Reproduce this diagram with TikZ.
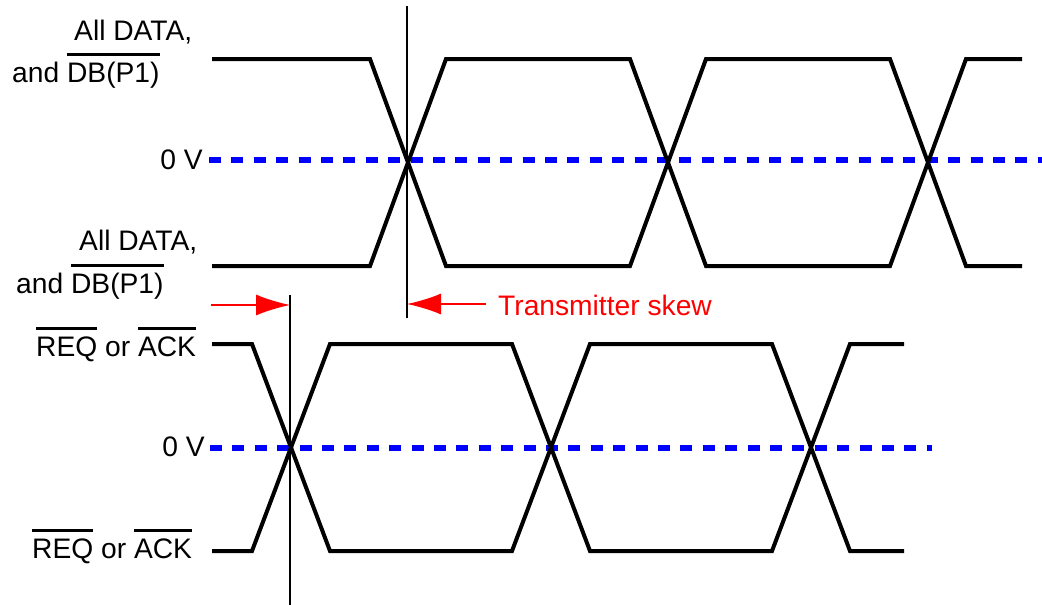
\documentclass[tikz,border=0pt]{standalone}
\usepackage{fontspec}
\setmainfont{Liberation Sans}
\usetikzlibrary{arrows.meta}
\newcommand{\ovbar}[1]{\setbox0\hbox{#1}\rlap{\rule[0.93em]{\wd0}{2.8pt}}\box0\relax}
\tikzset{
	sig/.style={line width=4pt},
	zerov/.style={blue,line width=6pt,dash pattern=on 12pt off 10.4pt},
	lbl/.style={inner sep=0pt,font=\fontsize{28.2}{32}\selectfont},
	skewarrow/.style={red,line width=1.3pt,-{Latex[length=34pt,width=21pt]}}
}

\begin{document}
\begin{tikzpicture}[x=1pt,y=-1pt]
	\useasboundingbox (0,0) rectangle (1042,605);
	\begin{scope}
		\clip (0,0) rectangle (1042,605);
		\draw[zerov] (209,160) -- (1060,160);
	\end{scope}
	\draw[zerov] (210,448) -- (932,448);
	\foreach \s/\e in {59/266,266/59}{
		\draw[sig] (212,\s) -- (370,\s) -- (446,\e) -- (630,\e) -- (706,\s) -- (890,\s) -- (966,\e) -- (1022,\e);}
	\foreach \s/\e in {344/551,551/344}{
		\draw[sig] (212,\s) -- (252,\s) -- (330,\e) -- (512,\e) -- (590,\s) -- (772,\s) -- (850,\e) -- (904,\e);}
	\coordinate (txtop) at (407,6);
	\coordinate (txbot) at (407,318);
	\coordinate (rxtop) at (290,295);
	\coordinate (rxbot) at (290,605);
	\draw[line width=1.3pt] (txtop) -- (txbot);
	\draw[line width=2.5pt] (rxtop) -- (rxbot);
	\coordinate (skewfrom) at (211,305);
	\coordinate (rxmark) at (290,305);
	\coordinate (skewto) at (486,304);
	\coordinate (txmark) at (407,304);
	\draw[skewarrow] (skewfrom) -- (rxmark);
	\draw[skewarrow] (skewto) -- (txmark);
	\node[lbl,anchor=base west] (dataA) at (74,40) {All DATA,};
	\node[lbl,anchor=base west] (dbA) at (12,82) {and \ovbar{DB(P1)}};
	\node[lbl,anchor=east] (zeroA) at (203,160) {0 V};
	\node[lbl,anchor=base west] (dataB) at (79,250) {All DATA,};
	\node[lbl,anchor=base west] (dbB) at (16,293) {and \ovbar{DB(P1)}};
	\node[lbl,anchor=base west] (reqA) at (36,356) {\ovbar{REQ} or \ovbar{ACK}};
	\node[lbl,anchor=east] (zeroB) at (205,447) {0 V};
	\node[lbl,anchor=base west] (reqB) at (32,558) {\ovbar{REQ} or \ovbar{ACK}};
	\node[lbl,anchor=base west,red] (skewtxt) at (498,315) {Transmitter skew};
\end{tikzpicture}
\end{document}
